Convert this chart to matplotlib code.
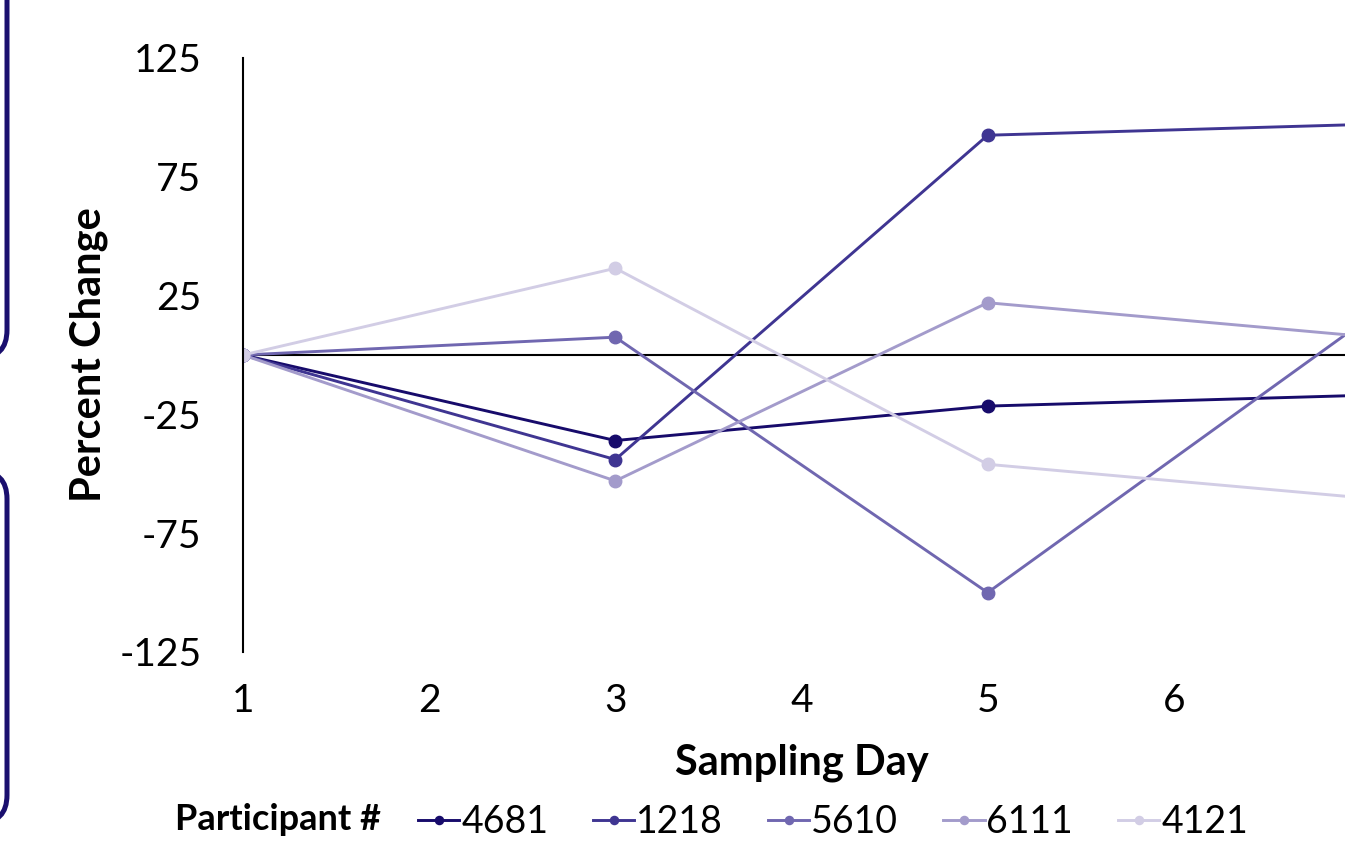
import matplotlib.pyplot as plt
from matplotlib.patches import FancyBboxPatch
from matplotlib.transforms import IdentityTransform

plt.rcParams['font.family'] = ['Lato', 'DejaVu Sans']
plt.rcParams['axes.unicode_minus'] = False

# Data
days = [1, 3, 5, 7]
participants = ['4681', '1218', '5610', '6111', '4121']
p4681 = [0, -36, -21.5, -17]
p1218 = [0, -44, 92.5, 97]
p5610 = [0, 7.5, -100, 13]
p6111 = [0, -53, 22, 8]
p4121 = [0, 36.5, -46, -60]
series = [p4681, p1218, p5610, p6111, p4121]
colors = ['#170b6b', '#3f3592', '#7067b0', '#a39bcb', '#d2cde5']

yticks = [-125, -75, -25, 25, 75, 125]
xticks = [1, 2, 3, 4, 5, 6]

W, H = 1345, 843
fig = plt.figure(figsize=(W / 100, H / 100), dpi=100)
ax = fig.add_axes([243 / W, 1 - 652 / H, (1360 - 243) / W, (652 - 58) / H])

for name, vals, c in zip(participants, series, colors):
    ax.plot(days, vals, color=c, lw=2.1, marker='o', markersize=9, label=name)

ax.axhline(0, color='black', lw=1.5, zorder=1)
ax.set_xlim(1, 7)
ax.set_ylim(-125, 125)
ax.set_yticks(yticks)
ax.set_xticks(xticks)
ax.tick_params(axis='both', length=0, labelsize=28)
ax.tick_params(axis='x', pad=22)
ax.tick_params(axis='y', pad=30)
for s in ['top', 'right', 'bottom']:
    ax.spines[s].set_visible(False)
ax.spines['left'].set_linewidth(1.5)

ax.set_xlabel('Sampling Day', fontsize=30, fontweight='bold', labelpad=18)
ax.set_ylabel('Percent Change', fontsize=30, fontweight='bold', labelpad=8)

# legend with title on the left
fig.text(175 / W, 1 - 820 / H, 'Participant #', fontsize=26, fontweight='bold',
         ha='left', va='center')
leg = fig.legend(loc='center left', bbox_to_anchor=(418 / W, 1 - 822 / H), ncol=5,
                 frameon=False, fontsize=27, handlelength=1.1, handletextpad=0.05,
                 columnspacing=1.2, markerscale=0.65, borderpad=0, borderaxespad=0)

# decorative rounded boxes on the left edge
for y0, y1 in [(843 - 358, 1000), (843 - 823, 843 - 471)]:
    box = FancyBboxPatch((-100, y0), 107, y1 - y0,
                         boxstyle='round,pad=0,rounding_size=28',
                         transform=IdentityTransform(), fill=False,
                         edgecolor='#1a0f6e', lw=3.6)
    fig.patches.append(box)

fig.savefig('out.png', dpi=100)
